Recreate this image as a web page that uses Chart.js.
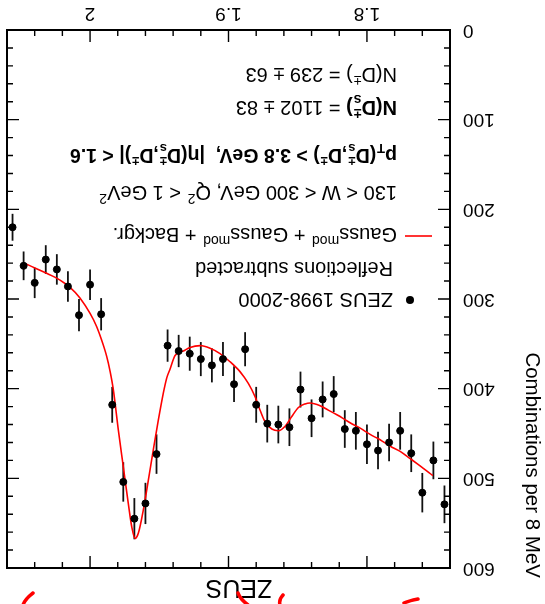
<!DOCTYPE html>
<html><head><meta charset="utf-8">
<script src="https://cdn.jsdelivr.net/npm/chart.js@4/dist/chart.umd.min.js"></script>
<style>
html,body{margin:0;padding:0;background:#fff;overflow:hidden}
#wrap{width:545px;height:604px;transform:rotate(180deg);transform-origin:50% 50%}
canvas{display:block}
</style></head><body>
<div id="wrap"><canvas id="c" width="545" height="604"></canvas></div>
<script>
// ---- data ----
const massBins = [1.744,1.752,1.760,1.768,1.776,1.784,1.792,1.800,1.808,1.816,
                  1.824,1.832,1.840,1.848,1.856,1.864,1.872,1.880,1.888,1.896,
                  1.904,1.912,1.920,1.928,1.936,1.944,1.952,1.960,1.968,1.976,
                  1.984,1.992,2.000,2.008,2.016,2.024,2.032,2.040,2.048,2.056];
const combinations = [529,480,516,472,447,460,469,462,447,445,
                      406,412,433,401,443,440,439,418,356,395,
                      367,374,367,361,358,352,473,528,545,504,
                      418,317,284,318,286,267,256,282,263,220];
const errors = [21,21,22,21,21,21,21,22,21,21,
                20,20,21,20,21,21,21,20,19,20,
                19,19,19,19,18,18,22,23,23,22,
                20,18,17,18,17,17,16,17,16,15];
const fitMass = [1.7524,1.7616,1.7688,1.7760,1.7833,1.7905,1.7977,1.8049,1.8122,1.8194,
                 1.8266,1.8338,1.8411,1.8447,1.8495,1.8543,1.8591,1.8640,1.8687,1.8736,
                 1.8772,1.8808,1.8857,1.8917,1.8989,1.9061,1.9133,1.9205,1.9278,1.9326,
                 1.9386,1.9422,1.9446,1.9471,1.9507,1.9543,1.9579,1.9615,1.9651,1.9675,
                 1.9699,1.9724,1.9760,1.9796,1.9832,1.9855,1.9880,1.9916,1.9952,2.0000,
                 2.0073,2.0145,2.0217,2.0318,2.0477];
const fitValues = [497,486,478,470,464,457,451,444,438,431,
                   425,419,416,417,421,431,442,447,445,437,
                   424,409,394,381,370,361,355,352,354,358,
                   363,378,388,405,435,468,502,535,561,567,
                   554,528,487,446,401,381,364,346,331,316,
                   299,287,279,271,260];
const xMajorTicks = [1.8,1.9,2.0];
const xMinorTicks = [1.74,1.76,1.78,1.82,1.84,1.86,1.88,1.92,1.94,1.96,1.98,2.02,2.04,2.06];
const yMajorTicks = [0,100,200,300,400,500,600];
const yMinorTicks = [20,40,60,80,120,140,160,180,220,240,260,280,320,340,360,380,420,440,460,480,520,540,560,580];

const FONT = '"Liberation Sans", Arial, Helvetica, sans-serif';

function fnt(size,bold){return (bold?'bold ':'')+size+'px '+FONT;}
function drawRich(ctx,x,y,segs,size,bold){
  let cx=x;
  for(const s of segs){
    const b = (s.b!==undefined)?s.b:bold;
    if(s.t!==undefined){
      ctx.font=fnt(size,b); ctx.fillText(s.t,cx,y); cx+=ctx.measureText(s.t).width;
    } else {
      const ss=Math.round(size*0.68); let w=0; ctx.font=fnt(ss,b);
      if(s.sup){ctx.fillText(s.sup,cx,y-size*0.42); w=Math.max(w,ctx.measureText(s.sup).width);}
      if(s.sub){ctx.fillText(s.sub,cx,y+size*0.28); w=Math.max(w,ctx.measureText(s.sub).width);}
      cx+=w+1;
    }
  }
  return cx;
}

const pm='\u00B1';
const textLines = [
  {y:536, size:20, bold:false, segs:[{t:'N(D'},{sup:pm},{t:') = 239 '+pm+' 63'}]},
  {y:503, size:20, bold:false, segs:[{t:'N(D',b:true},{sup:pm,sub:'s',b:true},{t:')',b:true},{t:' = 1102 '+pm+' 83'}]},
  {y:455, size:19.5, bold:true, segs:[{t:'p'},{sub:'T'},{t:'(D'},{sup:pm,sub:'s'},{t:',D'},{sup:pm},{t:') > 3.8 GeV,  |\u03B7(D'},{sup:pm,sub:'s'},{t:',D'},{sup:pm},{t:')| < 1.6'}]},
  {y:418, size:20, bold:false, segs:[{t:'130 < W < 300 GeV, Q'},{sup:'2'},{t:' < 1 GeV'},{sup:'2'}]},
  {y:376, size:20, bold:false, segs:[{t:'Gauss'},{sup:'mod'},{t:' + Gauss'},{sup:'mod'},{t:' + Backgr.'}]},
  {y:342, size:20, bold:false, segs:[{t:'Reflections subtracted'}], x:152},
  {y:311, size:20, bold:false, segs:[{t:'ZEUS 1998-2000'}], x:152}
];

const decor = {
  id:'decor',
  beforeDatasetsDraw(chart){
    const {ctx,scales:{x,y}}=chart;
    ctx.save();
    ctx.strokeStyle='#111'; ctx.lineWidth=1.8;
    for(let i=0;i<massBins.length;i++){
      const px=x.getPixelForValue(massBins[i]);
      ctx.beginPath();
      ctx.moveTo(px,y.getPixelForValue(combinations[i]-errors[i]));
      ctx.lineTo(px,y.getPixelForValue(combinations[i]+errors[i]));
      ctx.stroke();
    }
    ctx.restore();
  },
  afterDraw(chart){
    const {ctx,chartArea:a,scales:{x,y}}=chart;
    ctx.save();
    ctx.strokeStyle='#000'; ctx.lineWidth=2;
    ctx.strokeRect(a.left,a.top,a.right-a.left,a.bottom-a.top);
    ctx.lineWidth=1.4;
    const tick=(vals,len,axis)=>{
      for(const v of vals){
        ctx.beginPath();
        if(axis==='x'){
          const p=x.getPixelForValue(v);
          ctx.moveTo(p,a.bottom); ctx.lineTo(p,a.bottom-len);
          ctx.moveTo(p,a.top); ctx.lineTo(p,a.top+len);
        } else {
          const p=y.getPixelForValue(v);
          ctx.moveTo(a.left,p); ctx.lineTo(a.left+len,p);
          ctx.moveTo(a.right,p); ctx.lineTo(a.right-len,p);
        }
        ctx.stroke();
      }
    };
    tick(xMajorTicks,12,'x'); tick(xMinorTicks,6,'x');
    tick(yMajorTicks,12,'y'); tick(yMinorTicks,6,'y');

    ctx.fillStyle='#000'; ctx.textBaseline='alphabetic'; ctx.textAlign='left';
    for(const L of textLines){ drawRich(ctx,L.x||148,L.y,L.segs,L.size,L.bold); }
    ctx.beginPath(); ctx.arc(135,304,4,0,Math.PI*2); ctx.fill();
    ctx.strokeStyle='#ff0000'; ctx.lineWidth=1.6;
    ctx.beginPath(); ctx.moveTo(113,368); ctx.lineTo(140,368); ctx.stroke();

    ctx.save();
    ctx.translate(13,26); ctx.rotate(-Math.PI/2);
    ctx.font=fnt(20.5,false); ctx.textAlign='right'; ctx.textBaseline='middle';
    ctx.fillText('Combinations per 8 MeV',0,0);
    ctx.restore();

    ctx.font=fnt(25,false); ctx.textAlign='center'; ctx.textBaseline='middle';
    ctx.fillText('ZEUS',306,17);
    ctx.strokeStyle='#ff0000'; ctx.lineWidth=3.5; ctx.lineCap='round';
    const strokes=[[522,-1,512,11],[307,11,297,-1],[262,9,265,-1],[141,1,127,5]];
    for(const s of strokes){ctx.beginPath();ctx.moveTo(s[0],s[1]);ctx.quadraticCurveTo((s[0]+s[2])/2+3,(s[1]+s[3])/2,s[2],s[3]);ctx.stroke();}
    ctx.restore();
  }
};

new Chart(document.getElementById('c'),{
  type:'scatter',
  data:{datasets:[
    {label:'ZEUS 1998-2000', data:massBins.map((m,i)=>({x:m,y:combinations[i]})),
     backgroundColor:'#000', borderColor:'#000', pointRadius:3.5, pointHoverRadius:3.5, showLine:false},
    {label:'fit', type:'line', data:fitMass.map((m,i)=>({x:m,y:fitValues[i]})),
     borderColor:'#ff0000', borderWidth:1.6, pointRadius:0, fill:false, cubicInterpolationMode:'monotone'}
  ]},
  options:{
    responsive:false, animation:false, devicePixelRatio:1,
    layout:{padding:{top:36,right:7,left:0,bottom:0}},
    plugins:{legend:{display:false},tooltip:{enabled:false}},
    scales:{
      x:{type:'linear',min:1.74,max:2.06,position:'bottom',
         grid:{display:false,drawTicks:false}, border:{display:false},
         afterBuildTicks(s){s.ticks=xMajorTicks.map(v=>({value:v}));},
         afterFit(s){s.height=30;},
         ticks:{color:'#000',font:{family:FONT,size:19},padding:5,maxRotation:0,
                callback:v=>String(Math.round(v*10)/10)}},
      y:{type:'linear',min:0,max:600,
         grid:{display:false,drawTicks:false}, border:{display:false},
         afterBuildTicks(s){s.ticks=yMajorTicks.map(v=>({value:v}));},
         afterFit(s){s.width=95;},
         ticks:{color:'#000',font:{family:FONT,size:19},padding:13}}
    }
  },
  plugins:[decor]
});
</script>
</body></html>
